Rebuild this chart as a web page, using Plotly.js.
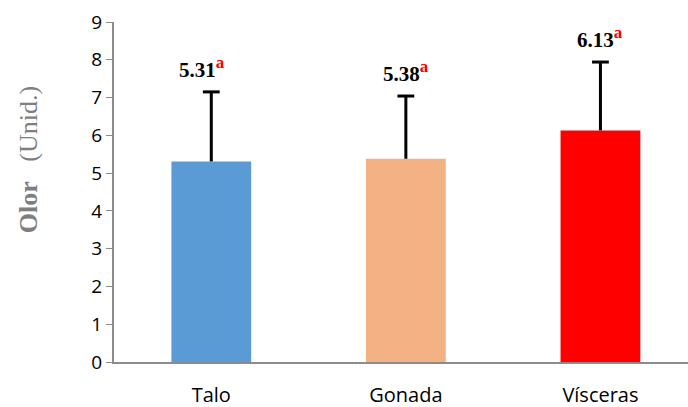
<!DOCTYPE html>
<html>
<head>
<meta charset="utf-8">
<script src="https://cdn.plot.ly/plotly-3.0.1.min.js"></script>
<style>html,body{margin:0;padding:0;background:#fff;}#chart{width:688px;height:407px;}</style>
</head>
<body>
<div id="chart"></div>
<script>
// Olor score per tissue, mean and upper standard deviation
const categories = ['Talo', 'Gonada', 'Vísceras'];
const means = [5.31, 5.38, 6.13];
const deviations = [1.84, 1.66, 1.81];
const letters = ['a', 'a', 'a'];
const barColors = ['#5b9bd5', '#f4b183', '#ff0000'];
const yTicks = [0, 1, 2, 3, 4, 5, 6, 7, 8, 9];

const tops = means.map((m, i) => m + deviations[i]);

const bars = {
  type: 'bar',
  x: categories,
  y: means,
  width: 0.41,
  marker: { color: barColors },
  hoverinfo: 'none'
};

// upper-only error whiskers: a stem from the bar top to mean + SD
const stemX = [], stemY = [];
categories.forEach((c, i) => {
  stemX.push(c, c, null);
  stemY.push(means[i], tops[i], null);
});
const stems = {
  type: 'scatter',
  mode: 'lines',
  x: stemX,
  y: stemY,
  line: { color: '#000', width: 3 },
  hoverinfo: 'none'
};
const caps = {
  type: 'scatter',
  mode: 'markers',
  x: categories,
  y: tops,
  marker: { symbol: 'line-ew', size: 12, line: { color: '#000', width: 3 } },
  hoverinfo: 'none'
};

// value labels with the significance letter as a red superscript
const labelShift = [-9, 0, 0];
const annotations = categories.map((c, i) => ({
  x: c,
  y: tops[i],
  xref: 'x',
  yref: 'y',
  yanchor: 'bottom',
  yshift: 8,
  xshift: labelShift[i],
  showarrow: false,
  text: '<b>' + means[i].toFixed(2) + '<sup><span style="color:#ff0000;font-size:17px">' + letters[i] + '</span></sup></b>',
  font: { family: 'Liberation Serif, Times New Roman, serif', size: 21, color: '#000' }
}));

const sp = '&nbsp;';
const layout = {
  width: 688,
  height: 407,
  margin: { l: 114, r: 0, t: 22, b: 45 },
  paper_bgcolor: '#fff',
  plot_bgcolor: '#fff',
  showlegend: false,
  bargap: 0.59,
  xaxis: {
    type: 'category',
    range: [-0.5, 2.45],
    showline: true,
    linecolor: '#8c8c8c',
    linewidth: 2,
    ticks: '',
    ticklabelstandoff: 14,
    tickfont: { family: 'Open Sans, sans-serif', size: 20, color: '#000' },
    showgrid: false,
    zeroline: false,
    fixedrange: true
  },
  yaxis: {
    range: [0, 9],
    tickvals: yTicks,
    ticktext: yTicks.map(String),
    showline: true,
    linecolor: '#8c8c8c',
    linewidth: 2,
    ticks: 'outside',
    ticklen: 6,
    tickcolor: '#8c8c8c',
    tickwidth: 1,
    tickfont: { family: 'Open Sans, sans-serif', size: 19, color: '#000' },
    showgrid: false,
    zeroline: false,
    title: {
      text: sp.repeat(10) + '<b>Olor</b>' + sp.repeat(3) + '(Unid.)',
      font: { family: 'Liberation Serif, Times New Roman, serif', size: 26, color: '#7f7f7f' },
      standoff: 46
    },
    fixedrange: true
  },
  annotations: annotations
};

Plotly.newPlot('chart', [bars, stems, caps], layout, { displayModeBar: false, staticPlot: true });
</script>
</body>
</html>
